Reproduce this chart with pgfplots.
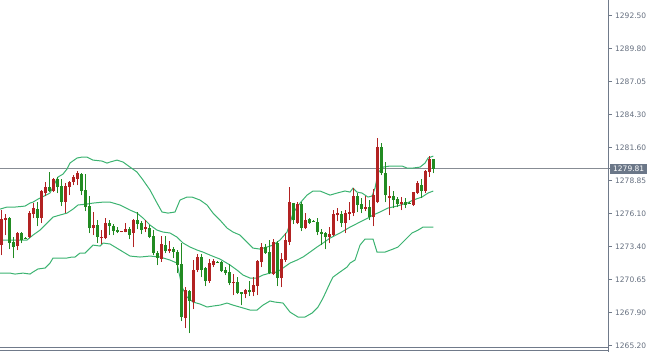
\documentclass[border=0pt]{standalone}
\usepackage{pgfplots}
\pgfplotsset{compat=1.18}
\usepackage{pgfplotstable}
\usepackage{fontspec}
\setmainfont{DejaVu Sans}
\definecolor{cRed}{RGB}{178,34,34}
\definecolor{cGreen}{RGB}{34,139,34}
\definecolor{band}{RGB}{60,179,113}
\definecolor{axisgray}{RGB}{112,122,138}
\definecolor{labelgray}{RGB}{100,110,126}
\definecolor{boxgray}{RGB}{107,119,136}
\definecolor{pricegray}{RGB}{135,140,148}

% bullish (red): x open high low close
\pgfplotstableread{
x o h l c
0 1273.50 1276.40 1272.67 1275.66
1 1275.57 1276.07 1274.33 1275.74
4 1273.42 1274.58 1273.09 1274.50
7 1274.16 1276.32 1274.08 1276.15
8 1276.07 1276.98 1275.74 1276.57
10 1275.74 1278.06 1275.32 1277.98
11 1277.81 1278.72 1277.56 1278.31
13 1277.98 1279.05 1277.89 1278.97
16 1277.06 1278.64 1276.15 1278.39
17 1278.31 1278.80 1277.64 1278.75
18 1278.72 1279.30 1278.47 1279.14
19 1278.97 1279.63 1278.47 1279.47
23 1274.91 1276.24 1274.33 1275.16
25 1274.08 1274.74 1273.59 1274.16
26 1274.08 1275.74 1274.00 1275.32
30 1274.60 1274.70 1274.58 1274.68
31 1274.58 1275.32 1274.55 1274.83
33 1274.50 1275.66 1273.34 1275.57
36 1274.83 1275.57 1274.58 1274.99
40 1272.34 1274.25 1272.10 1273.59
42 1273.01 1273.83 1272.84 1273.17
46 1267.46 1270.02 1266.63 1269.78
48 1268.78 1272.26 1268.20 1271.43
49 1271.43 1272.76 1271.27 1272.51
52 1270.52 1272.34 1270.36 1272.01
53 1271.85 1272.34 1271.68 1272.18
58 1270.32 1271.10 1269.36 1270.44
61 1269.44 1269.86 1269.11 1269.78
63 1269.61 1270.85 1269.28 1270.19
64 1270.11 1272.26 1269.36 1272.18
65 1272.10 1273.67 1271.68 1273.34
68 1271.10 1274.00 1271.02 1273.75
70 1270.77 1272.84 1270.02 1272.34
71 1272.26 1274.50 1272.10 1273.92
72 1273.75 1278.31 1273.50 1277.06
74 1275.32 1277.06 1275.24 1276.90
76 1274.91 1276.15 1274.83 1275.57
82 1274.16 1274.99 1273.67 1274.41
83 1274.33 1276.40 1274.25 1276.07
84 1275.99 1276.57 1275.49 1276.15
86 1275.32 1276.40 1274.50 1276.15
87 1276.07 1277.06 1275.57 1276.24
88 1276.15 1278.22 1275.90 1277.56
91 1276.48 1277.56 1276.32 1276.65
93 1275.82 1278.14 1275.08 1277.64
94 1277.06 1282.37 1276.98 1281.62
97 1277.40 1278.39 1275.99 1277.56
100 1276.90 1277.48 1276.40 1277.06
103 1276.82 1277.89 1276.73 1277.89
104 1277.81 1278.80 1277.73 1278.64
106 1277.98 1279.71 1277.81 1279.63
107 1279.55 1280.87 1279.14 1280.63
}\redtab

% bearish (green): x open high low close
\pgfplotstableread{
x o h l c
2 1275.74 1275.82 1273.17 1273.67
3 1273.75 1274.16 1272.43 1273.34
5 1274.50 1274.58 1273.67 1273.92
6 1274.12 1274.16 1274.00 1274.05
9 1276.48 1277.06 1275.08 1275.74
12 1278.31 1279.55 1277.89 1277.98
14 1278.97 1279.14 1277.81 1278.31
15 1278.39 1278.97 1276.73 1277.06
20 1279.38 1279.47 1277.64 1277.98
21 1278.06 1279.38 1276.32 1276.65
22 1276.73 1277.56 1274.50 1274.91
24 1275.16 1275.57 1273.67 1274.16
27 1275.32 1275.57 1274.33 1275.08
28 1275.08 1275.24 1274.33 1274.66
29 1274.74 1274.99 1274.50 1274.58
32 1274.83 1274.99 1274.00 1274.33
34 1275.57 1276.24 1274.83 1275.24
35 1275.32 1275.49 1274.41 1274.74
37 1274.91 1275.16 1274.08 1274.16
38 1274.25 1274.74 1272.67 1272.84
39 1272.84 1273.01 1271.85 1272.43
41 1273.50 1274.25 1272.84 1273.01
43 1273.17 1273.34 1272.43 1272.92
44 1272.92 1273.09 1271.18 1271.85
45 1271.93 1273.67 1267.21 1267.54
47 1269.69 1269.78 1266.21 1268.87
50 1272.51 1272.76 1270.85 1271.43
51 1271.60 1271.68 1270.11 1270.52
54 1272.14 1272.20 1272.05 1272.08
55 1272.10 1272.18 1271.27 1271.35
56 1271.43 1271.68 1271.02 1271.18
57 1271.27 1271.93 1270.19 1270.36
59 1270.44 1270.85 1269.44 1269.53
60 1269.61 1269.61 1268.53 1269.49
62 1269.78 1270.52 1269.28 1269.61
66 1273.34 1273.59 1272.80 1272.84
67 1272.92 1273.92 1271.10 1271.18
69 1273.67 1273.83 1270.11 1270.77
73 1276.98 1276.98 1275.24 1275.57
75 1276.90 1277.06 1274.66 1274.91
77 1275.66 1275.74 1275.24 1275.32
78 1275.52 1275.58 1275.44 1275.46
79 1275.41 1275.74 1274.33 1274.58
80 1274.58 1274.83 1273.50 1274.45
81 1274.50 1274.58 1273.17 1274.16
85 1276.07 1276.32 1274.99 1275.32
89 1277.56 1277.81 1276.24 1276.82
90 1276.90 1277.40 1276.15 1276.48
92 1276.65 1277.23 1275.57 1275.82
95 1281.62 1281.95 1279.30 1279.47
96 1279.47 1280.38 1277.06 1277.64
98 1277.56 1277.98 1276.57 1277.23
99 1277.31 1277.48 1276.65 1276.90
101 1277.06 1277.40 1276.57 1276.82
102 1277.00 1277.06 1276.92 1276.94
105 1278.47 1278.97 1277.40 1277.98
108 1280.63 1280.63 1279.47 1279.81
}\greentab

\pgfplotstableread{
x y
-0.33 1276.48
1.43 1276.65
3.43 1276.65
5.93 1276.73
7.18 1276.98
7.93 1277.06
9.18 1277.31
12.18 1277.81
12.93 1278.31
14.18 1279.14
15.43 1279.38
16.43 1279.80
17.18 1280.30
18.93 1280.71
20.18 1280.79
21.43 1280.79
22.93 1280.54
25.18 1280.46
26.43 1280.29
27.18 1280.38
28.93 1280.54
30.43 1280.38
32.18 1279.96
33.93 1279.55
35.43 1278.89
37.18 1278.06
38.93 1276.98
40.18 1276.24
41.68 1276.15
43.43 1276.24
44.68 1277.23
46.43 1277.48
47.68 1277.48
49.68 1277.23
51.43 1276.82
52.93 1276.15
54.68 1275.57
56.43 1274.91
57.93 1274.58
59.68 1274.33
61.43 1273.75
62.93 1273.25
64.68 1273.17
66.43 1273.34
67.93 1273.50
69.68 1273.92
71.43 1274.58
72.18 1275.32
72.93 1276.15
74.68 1276.98
76.43 1277.64
77.93 1277.98
79.68 1277.98
82.18 1277.64
83.93 1277.81
85.93 1277.98
87.18 1277.89
87.93 1278.22
88.93 1277.89
90.18 1277.81
91.68 1277.48
92.68 1277.56
93.43 1278.22
94.18 1279.47
95.43 1279.96
97.18 1280.05
100.18 1280.05
101.43 1279.88
102.93 1279.88
104.68 1279.96
105.93 1280.29
106.68 1280.71
108.00 1280.87
}\bandUp

\pgfplotstableread{
x y
-0.33 1273.92
4.68 1273.92
6.43 1273.92
7.93 1274.33
9.68 1274.74
11.43 1275.32
12.93 1275.82
14.68 1275.99
16.43 1276.15
17.93 1276.48
19.18 1276.82
21.43 1276.90
22.93 1276.98
25.43 1277.06
27.18 1277.06
29.68 1276.82
32.18 1276.40
33.93 1276.15
35.43 1275.74
37.18 1275.16
38.93 1274.74
40.43 1274.58
42.18 1274.50
43.93 1274.16
45.43 1273.67
47.18 1273.34
48.93 1273.09
50.43 1272.92
52.18 1272.67
54.68 1272.34
57.18 1271.85
58.93 1271.43
60.43 1271.02
62.18 1270.77
63.93 1270.77
65.43 1271.02
67.18 1271.18
68.93 1271.27
70.43 1271.60
72.18 1272.01
73.93 1272.26
75.43 1272.51
77.18 1272.92
78.93 1273.34
80.43 1273.67
82.18 1274.08
84.68 1274.50
87.18 1274.99
89.68 1275.41
91.68 1275.74
92.93 1275.99
94.68 1276.24
96.68 1276.57
98.93 1276.73
101.43 1276.98
102.93 1277.23
105.18 1277.48
106.68 1277.81
108.00 1277.98
}\bandMid

\pgfplotstableread{
x y
-0.33 1271.18
2.18 1271.18
3.43 1271.10
5.43 1271.18
7.18 1271.10
7.93 1271.27
9.18 1271.52
10.93 1271.60
12.18 1272.01
12.93 1272.43
16.43 1272.43
17.68 1272.51
18.43 1272.51
19.68 1272.84
20.93 1272.84
22.18 1273.25
22.93 1273.50
24.68 1273.42
25.43 1273.67
27.18 1273.59
29.68 1273.09
32.18 1272.59
34.68 1272.51
37.18 1272.59
39.68 1272.51
42.18 1272.26
43.93 1272.01
45.18 1270.02
46.43 1269.20
47.93 1268.78
49.68 1268.62
51.43 1268.37
52.93 1268.45
54.68 1268.53
56.43 1268.70
57.93 1268.53
60.43 1268.29
62.18 1268.12
63.93 1268.12
65.43 1268.53
67.18 1268.87
68.43 1268.78
70.43 1268.70
72.18 1267.95
74.18 1267.54
75.93 1267.54
77.68 1267.87
79.18 1268.37
80.43 1269.11
82.18 1270.36
82.93 1270.85
84.68 1271.27
86.43 1271.68
87.18 1272.01
88.43 1272.26
89.68 1273.50
90.93 1274.00
92.93 1274.00
93.93 1272.92
95.93 1272.92
97.93 1273.17
99.18 1273.34
100.93 1273.92
102.68 1274.50
104.18 1274.74
105.43 1274.99
108.00 1274.99
}\bandLow

\pgfplotsset{
  candle/.style 2 args={only marks, mark=none,
    mark options={draw=none, fill=none}, mark size=0pt,
    error bars/.cd, y dir=plus, y explicit, error mark=none,
    error bar style={line width=#2, draw=#1, solid}},
}

\begin{document}
\begin{tikzpicture}[x=1pt,y=1pt]
\useasboundingbox (0,-4.5) rectangle (649,347.5);
\begin{axis}[
  at={(0,0)}, anchor=south west,
  width=608pt, height=347.5pt, scale only axis,
  xmin=-0.325, xmax=151.675, ymin=1265.018, ymax=1293.801,
  axis x line*=bottom, axis y line*=right,
  axis line style={draw=axisgray, line width=1pt},
  xtick=\empty,
  ytick={1265.20,1267.90,1270.65,1273.40,1276.10,1278.85,1281.60,1284.30,1287.05,1289.80,1292.50},
  yticklabels={1265.20,1267.90,1270.65,1273.40,1276.10,1278.85,1281.60,1284.30,1287.05,1289.80,1292.50},
  tick align=outside, major tick length=4pt,
  y tick style={draw=axisgray, line width=1pt},
  yticklabel style={font=\fontsize{7.5}{9}\selectfont, text=labelgray, anchor=west, inner sep=0pt, xshift=3pt},
  extra y ticks={1279.81}, extra y tick labels={1279.81},
  extra y tick style={major tick length=2pt, yticklabel style={fill=boxgray, text=white, inner xsep=3pt, inner ysep=2pt, xshift=-3pt}},
]
\addplot[color=pricegray, line width=1pt, forget plot] coordinates {(-0.325,1279.81) (151.675,1279.81)};
\addplot[color=band, line width=1pt] table[x=x,y=y] {\bandUp};
\addplot[color=band, line width=1pt] table[x=x,y=y] {\bandMid};
\addplot[color=band, line width=1pt] table[x=x,y=y] {\bandLow};
% wicks
\addplot[candle={cRed}{1pt}]
  table[x=x, y=l, y error plus expr={\thisrow{h}-\thisrow{l}}] {\redtab};
\addplot[candle={cGreen}{1pt}]
  table[x=x, y=l, y error plus expr={\thisrow{h}-\thisrow{l}}] {\greentab};
% bodies
\addplot[candle={cRed}{3pt}]
  table[x=x, y=o, y error plus expr={\thisrow{c}-\thisrow{o}}] {\redtab};
\addplot[candle={cGreen}{3pt}]
  table[x=x, y=c, y error plus expr={\thisrow{o}-\thisrow{c}}] {\greentab};
\end{axis}
\draw[axisgray, line width=1pt] (0,-3) -- (608.5,-3);
\draw[axisgray, line width=1pt] (608,0) -- (608,-4.5);
\end{tikzpicture}
\end{document}
